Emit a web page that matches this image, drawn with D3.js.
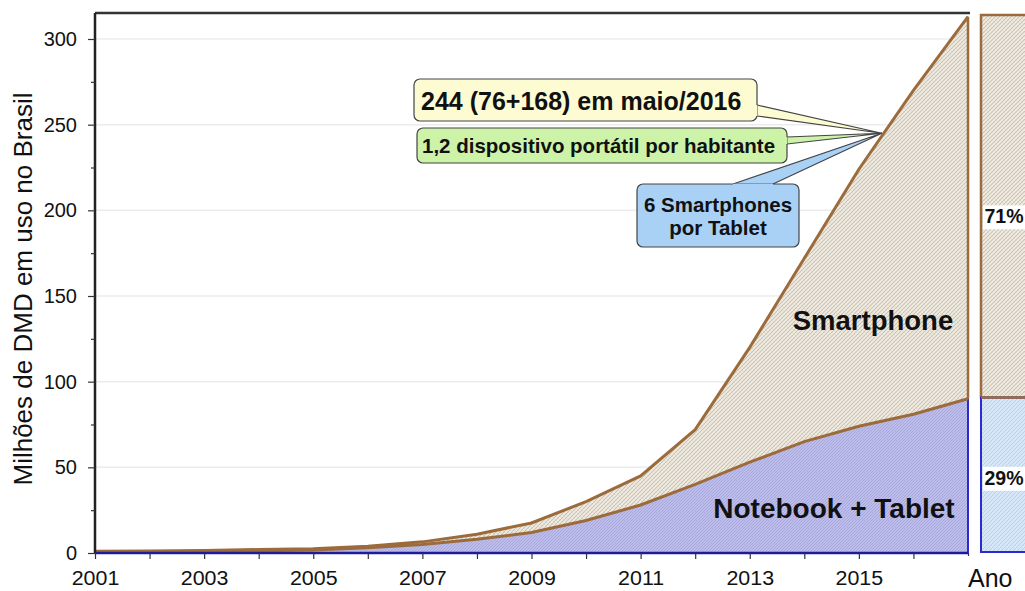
<!DOCTYPE html>
<html>
<head>
<meta charset="utf-8">
<script src="https://cdn.jsdelivr.net/npm/d3@7"></script>
<style>
  body { margin: 0; background: #fff; }
  svg { display: block; font-family: "Liberation Sans", Arial, sans-serif; }
</style>
</head>
<body>
<svg id="chart" width="1025" height="591"></svg>
<script>
// data (millions of portable devices in use, Brazil)
const years = [2001, 2002, 2003, 2004, 2005, 2006, 2007, 2008, 2009, 2010, 2011, 2012, 2013, 2014, 2015, 2016, 2017];
const notebookTablet = [0.5, 0.7, 1, 1.3, 1.8, 3, 5, 8, 12, 19, 28, 40, 53, 65, 74, 81, 90];
const smartphone = [0.5, 0.5, 0.5, 0.7, 0.7, 1, 1.5, 3, 5.5, 11, 17, 32, 67, 107, 150, 189, 223];
const yTicks = [0, 50, 100, 150, 200, 250, 300];
const xLabels = [2001, 2003, 2005, 2007, 2009, 2011, 2013, 2015];
const shareLabels = ['71%', '29%'];
const callout = { year: 2015.42, value: 245 };

const FONT = '"Liberation Sans", Arial, sans-serif';
const svg = d3.select('#chart');
const plotL = 95, plotR = 968, plotT = 13, plotB = 553;

const x = d3.scaleLinear().domain([2001, 2017]).range([plotL, plotR]);
const y = d3.scaleLinear().domain([0, 300]).range([plotB, 39]);

const rows = years.map((yr, i) => ({ year: yr, nt: notebookTablet[i], smart: smartphone[i] }));
const stacked = d3.stack().keys(['nt', 'smart'])(rows);
const last = years.length - 1;

// patterns
const defs = svg.append('defs');
const pSmart = defs.append('pattern').attr('id', 'pSmart')
  .attr('width', 4).attr('height', 4).attr('patternUnits', 'userSpaceOnUse');
pSmart.append('rect').attr('width', 4).attr('height', 4).attr('fill', '#eeeae2');
pSmart.append('path').attr('d', 'M0,4 L4,0 M-1,1 L1,-1 M3,5 L5,3')
  .attr('stroke', '#c7bca6').attr('stroke-width', 0.9);
pSmart.append('path').attr('d', 'M0,0 L4,4')
  .attr('stroke', '#dcd4c4').attr('stroke-width', 0.6);

const pNT = defs.append('pattern').attr('id', 'pNT')
  .attr('width', 3).attr('height', 3).attr('patternUnits', 'userSpaceOnUse');
pNT.append('rect').attr('width', 3).attr('height', 3).attr('fill', '#bdbdec');
pNT.append('path').attr('d', 'M0,3 L3,0 M-1,1 L1,-1 M2,4 L4,2')
  .attr('stroke', '#a2a2d8').attr('stroke-width', 0.8);

const pBlue = defs.append('pattern').attr('id', 'pBlue')
  .attr('width', 4).attr('height', 4).attr('patternUnits', 'userSpaceOnUse');
pBlue.append('rect').attr('width', 4).attr('height', 4).attr('fill', '#d5e6f8');
pBlue.append('path').attr('d', 'M0,4 L4,0 M-1,1 L1,-1 M3,5 L5,3')
  .attr('stroke', '#b3cfee').attr('stroke-width', 0.9);

// gridlines
svg.append('g').selectAll('line')
  .data(yTicks.filter(d => d > 0))
  .join('line')
    .attr('x1', plotL).attr('x2', plotR)
    .attr('y1', d => y(d)).attr('y2', d => y(d))
    .attr('stroke', '#ececec').attr('stroke-width', 1.5);

// areas
const area = d3.area()
  .x(d => x(d.data.year))
  .y0(d => y(d[0]))
  .y1(d => y(d[1]));

svg.append('path').datum(stacked[1]).attr('d', area).attr('fill', 'url(#pSmart)');
svg.append('path').datum(stacked[0]).attr('d', area).attr('fill', 'url(#pNT)');

// right closing edges
svg.append('line')
  .attr('x1', x(years[last])).attr('x2', x(years[last]))
  .attr('y1', y(stacked[1][last][1])).attr('y2', y(stacked[0][last][1]))
  .attr('stroke', '#9c6b3c').attr('stroke-width', 2.5);
svg.append('line')
  .attr('x1', x(years[last])).attr('x2', x(years[last]))
  .attr('y1', y(stacked[0][last][1])).attr('y2', plotB)
  .attr('stroke', '#2a2ad0').attr('stroke-width', 2);

// top lines of each layer
const line = d3.line().x(d => x(d.data.year)).y(d => y(d[1]));
svg.append('path').datum(stacked[0]).attr('d', line)
  .attr('fill', 'none').attr('stroke', '#9c6b3c').attr('stroke-width', 3);
svg.append('path').datum(stacked[1]).attr('d', line)
  .attr('fill', 'none').attr('stroke', '#9c6b3c').attr('stroke-width', 3);

// frame
svg.append('line').attr('x1', plotL).attr('x2', plotR + 2).attr('y1', plotT).attr('y2', plotT)
  .attr('stroke', '#333').attr('stroke-width', 2.5);
svg.append('line').attr('x1', plotL).attr('x2', plotL).attr('y1', plotT).attr('y2', plotB)
  .attr('stroke', '#222').attr('stroke-width', 2.5);
svg.append('line').attr('x1', plotL).attr('x2', plotR).attr('y1', plotB).attr('y2', plotB)
  .attr('stroke', '#1c1c9a').attr('stroke-width', 2.5);

// y axis
const yAxis = svg.append('g').attr('transform', `translate(${plotL},0)`)
  .call(d3.axisLeft(y).tickValues(yTicks).tickSize(7).tickPadding(11));
yAxis.select('.domain').remove();
svg.append('g').attr('transform', `translate(${plotL},0)`)
  .call(d3.axisLeft(y).tickValues(d3.range(25, 300, 50)).tickSize(4).tickFormat(''))
  .select('.domain').remove();

// x axis
const xAxis = svg.append('g').attr('transform', `translate(0,${plotB})`)
  .call(d3.axisBottom(x).tickValues(years).tickSize(6).tickPadding(12)
    .tickFormat(d => xLabels.includes(d) ? d : ''));
xAxis.select('.domain').remove();
xAxis.selectAll('.tick text').attr('transform', 'scale(1.07,1)');

svg.selectAll('.tick line').attr('stroke', '#333').attr('stroke-width', 1.2);
svg.selectAll('.tick text').attr('font-size', 20).attr('fill', '#111')
  .attr('font-family', FONT);

// axis titles
svg.append('text')
  .attr('transform', 'translate(32,289) rotate(-90)')
  .attr('text-anchor', 'middle')
  .attr('font-size', 26).attr('fill', '#111')
  .text('Milhões de DMD em uso no Brasil');

svg.append('rect').attr('x', 947).attr('y', 556).attr('width', 78).attr('height', 35).attr('fill', '#fff');
svg.append('text').attr('x', 968).attr('y', 587)
  .attr('font-size', 25).attr('fill', '#111').text('Ano');

// area labels
svg.append('text').attr('x', 873).attr('y', 330).attr('text-anchor', 'middle')
  .attr('font-size', 27.5).attr('font-weight', 'bold').attr('fill', '#111').text('Smartphone');
svg.append('text').attr('x', 834).attr('y', 518).attr('text-anchor', 'middle')
  .attr('font-size', 28).attr('font-weight', 'bold').attr('fill', '#111').text('Notebook + Tablet');

// share bar on the right
const lastNT = notebookTablet[last];
const lastSmart = smartphone[last];
const ntShare = lastNT / (lastNT + lastSmart);
const s = d3.scaleLinear().domain([0, 1]).range([552, 15]);
const barX = 981, barW = 60;

svg.append('rect').attr('x', barX).attr('y', s(1)).attr('width', barW)
  .attr('height', s(ntShare) - s(1))
  .attr('fill', 'url(#pSmart)').attr('stroke', '#9c6b3c').attr('stroke-width', 2.5);
svg.append('rect').attr('x', barX).attr('y', s(ntShare)).attr('width', barW)
  .attr('height', s(0) - s(ntShare))
  .attr('fill', 'url(#pBlue)').attr('stroke', '#2a2ad0').attr('stroke-width', 2);
svg.append('line').attr('x1', barX).attr('x2', barX + barW)
  .attr('y1', s(ntShare)).attr('y2', s(ntShare))
  .attr('stroke', '#9c6b3c').attr('stroke-width', 2.5);

// label baselines: a little below the middle of each segment
const shareBase = [s((1 + ntShare) / 2) + 17, s(ntShare / 2) + 10];
shareLabels.forEach((t, i) => {
  const yy = shareBase[i];
  svg.append('rect').attr('x', 983).attr('y', yy - 18).attr('width', 42).attr('height', 24).attr('fill', '#fff');
  svg.append('text').attr('x', 984.5).attr('y', yy)
    .attr('font-size', 19.5).attr('font-weight', 'bold').attr('fill', '#111').text(t);
});

// callouts
const tipX = x(callout.year), tipY = y(callout.value);
const callouts = [
  { x: 414, y: 79, w: 343, h: 42, fill: '#fdfbd2', lines: ['244 (76+168) em maio/2016'], size: 25,
    side: 'right', tx: 421, ty: [110], wedge: [[757, 105], [757, 116]] },
  { x: 417, y: 128, w: 370, h: 35, fill: '#cdf3a9', lines: ['1,2 dispositivo portátil por habitante'], size: 20.5,
    side: 'right', tx: 422, ty: [153], wedge: [[787, 137], [787, 144]] },
  { x: 637, y: 184, w: 162, h: 63, fill: '#a9d0f5', lines: ['6 Smartphones', 'por Tablet'], size: 20.5,
    side: 'top', tx: 718, ty: [212, 235], wedge: [[733, 184], [773, 184]] }
];
callouts.forEach(c => {
  svg.append('path')
    .attr('d', `M${c.wedge[0][0]},${c.wedge[0][1]} L${tipX},${tipY} L${c.wedge[1][0]},${c.wedge[1][1]}`)
    .attr('fill', c.fill).attr('stroke', '#444').attr('stroke-width', 1.2);
  svg.append('rect').attr('x', c.x).attr('y', c.y).attr('width', c.w).attr('height', c.h)
    .attr('rx', 6).attr('fill', c.fill).attr('stroke', '#444').attr('stroke-width', 1.2);
  // hide the wedge base where it meets the box
  const dx = c.side === 'right' ? -1 : 0, dy = c.side === 'top' ? 1 : 0;
  svg.append('path')
    .attr('d', `M${c.wedge[0][0] + dx},${c.wedge[0][1] + dy} L${c.wedge[1][0] + dx},${c.wedge[1][1] + dy}`)
    .attr('stroke', c.fill).attr('stroke-width', 2.5);
  c.lines.forEach((t, i) => {
    svg.append('text').attr('x', c.tx).attr('y', c.ty[i])
      .attr('text-anchor', c.side === 'top' ? 'middle' : 'start')
      .attr('font-size', c.size).attr('font-weight', 'bold').attr('fill', '#111').text(t);
  });
});
</script>
</body>
</html>
